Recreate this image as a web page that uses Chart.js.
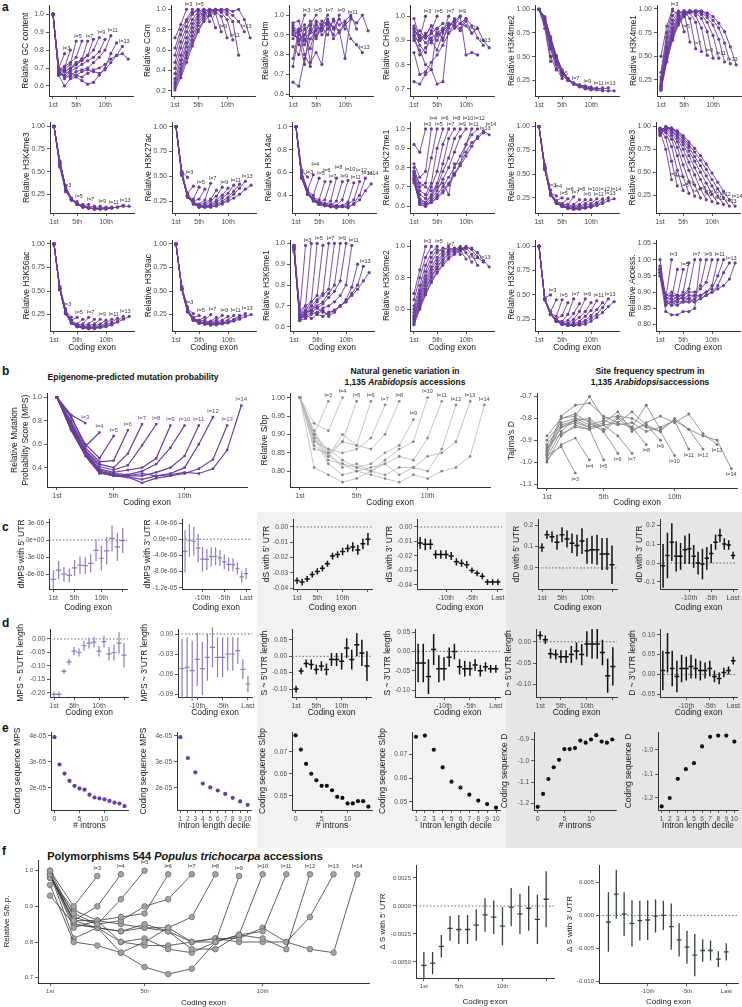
<!DOCTYPE html>
<html>
<head>
<meta charset="utf-8">
<script src="https://cdn.jsdelivr.net/npm/chart.js@4.4.1/dist/chart.umd.min.js"></script>
<style>
  body { margin: 0; width: 742px; height: 1007px; position: relative; overflow: hidden; background: #fff;
         font-family: "Liberation Sans", Arial, Helvetica, sans-serif; color: #111; }
  canvas { position: absolute; }
  .bg { position: absolute; }
  .lt { position: absolute; font-weight: bold; font-size: 12px; }
  .ttl { position: absolute; font-weight: bold; font-size: 8.5px; text-align: center; transform: translate(-50%, -50%); white-space: nowrap; line-height: 11px; }
</style>
</head>
<body>
<div class="bg" style="left:257px;top:512px;width:249px;height:336px;background:#f2f2f2"></div>
<div class="bg" style="left:506px;top:512px;width:236px;height:336px;background:#e5e6e8"></div>

<div class="lt" style="left:2px;top:0px">a</div>
<div class="lt" style="left:2px;top:364px">b</div>
<div class="lt" style="left:2px;top:520px">c</div>
<div class="lt" style="left:2px;top:616px">d</div>
<div class="lt" style="left:2px;top:721px">e</div>
<div class="lt" style="left:2px;top:844px">f</div>

<div class="ttl" style="left:133px;top:377px">Epigenome-predicted mutation probability</div>
<div class="ttl" style="left:405px;top:377px">Natural genetic variation in<br>1,135 <i>Arabidopsis</i> accessions</div>
<div class="ttl" style="left:650px;top:377px">Site frequency spectrum in<br>1,135 <i>Arabidopsis</i>accessions</div>
<div class="ttl" style="left:185px;top:856px;font-size:11px">Polymorphisms 544 <i>Populus trichocarpa</i> accessions</div>

<script>
const FAM = '"Liberation Sans", Arial, Helvetica, sans-serif';
Chart.defaults.font.family = FAM;

// ---------- shared tick labels ----------
const seriesLabels = ['l=3','l=4','l=5','l=6','l=7','l=8','l=9','l=10','l=11','l=12','l=13','l=14'];
const exonTicks = [1, 5, 10];
const exonTickLabels = ['1st', '5th', '10th'];
const exonTicks15 = [1, 5, 10, 15];
const exonTicks15Labels = ['1st', '5th', '10th', ''];
const lastTicks = [-10, -5, 0];
const lastTickLabels = ['-10th', '-5th', 'Last'];
const intronTicks = [0, 5, 10];
const decileTicks = [1, 2, 3, 4, 5, 6, 7, 8, 9, 10];
const decileTickLabels = ['1','2','3','4','5','6','7','8','9','10'];

// ---------- panel a: relative signal per exon, genes with l = 3..14 exons ----------
const gcContent = [
  [1,0.70,0.78],
  [1,0.68,0.70,0.80],
  [1,0.67,0.69,0.72,0.85],
  [1,0.69,0.71,0.73,0.76,0.85],
  [1,0.66,0.68,0.70,0.72,0.75,0.85],
  [1,0.68,0.66,0.69,0.72,0.74,0.77,0.86],
  [1,0.70,0.68,0.70,0.73,0.75,0.77,0.80,0.87],
  [1,0.67,0.65,0.68,0.70,0.72,0.74,0.76,0.79,0.86],
  [1,0.69,0.64,0.66,0.68,0.69,0.70,0.73,0.76,0.80,0.88],
  [1,0.66,0.60,0.64,0.65,0.63,0.61,0.62,0.66,0.70,0.78,0.84],
  [1,0.67,0.66,0.65,0.66,0.68,0.69,0.68,0.67,0.69,0.73,0.77,0.82],
  [1,0.70,0.68,0.67,0.66,0.65,0.67,0.69,0.70,0.72,0.75,0.77,0.78,0.75]
];
const cgm = [
  [0.72,0.85,1.0],
  [0.62,0.80,0.90,1.0],
  [0.55,0.75,0.88,0.97,1.0],
  [0.48,0.68,0.83,0.95,1.0,0.92],
  [0.42,0.62,0.78,0.90,0.98,1.0,0.88],
  [0.37,0.55,0.72,0.86,0.95,1.0,0.98,0.82],
  [0.32,0.50,0.67,0.82,0.93,0.98,1.0,0.96,0.78],
  [0.29,0.46,0.63,0.78,0.90,0.97,1.0,0.98,0.93,0.72],
  [0.27,0.42,0.58,0.74,0.87,0.95,0.99,1.0,0.97,0.90,0.70],
  [0.25,0.39,0.55,0.70,0.84,0.93,0.98,1.0,0.99,0.95,0.88,0.55],
  [0.23,0.36,0.52,0.67,0.80,0.90,0.96,0.99,1.0,0.98,0.94,0.88,0.78],
  [0.21,0.33,0.48,0.64,0.78,0.88,0.94,0.98,1.0,1.0,0.98,1.0,0.90,0.72]
];
const chhm = [
  [0.92,0.90,1.0],
  [0.95,0.85,0.93,0.95],
  [0.90,0.88,0.75,0.95,1.0],
  [0.88,0.93,0.80,0.74,0.97,0.95],
  [0.84,0.80,0.90,0.93,0.88,0.95,1.0],
  [0.78,0.92,0.95,0.76,0.81,0.75,0.98,0.93],
  [0.66,0.64,0.78,0.88,0.92,0.97,0.95,0.90,1.0],
  [0.96,0.97,0.87,0.92,0.90,0.95,0.97,0.93,0.98,0.93],
  [0.93,0.91,0.93,0.95,0.89,0.93,0.96,0.94,0.92,0.78,0.99],
  [0.91,0.87,0.90,0.97,0.93,0.94,0.90,0.98,0.95,0.97,1.0,0.93],
  [0.74,0.90,0.88,0.83,0.95,0.92,0.97,0.88,0.92,0.96,0.88,0.85,0.81],
  [0.94,0.92,0.85,0.91,0.96,0.90,0.93,0.97,0.91,0.95,0.98,0.96,1.0,0.92]
];
const chgm = [
  [0.99,0.91,1.0],
  [0.95,0.90,0.92,0.96],
  [0.93,0.88,0.85,0.94,1.0],
  [0.90,0.86,0.80,0.78,0.95,0.97],
  [0.92,0.84,0.87,0.90,0.86,0.93,1.0],
  [0.73,0.72,0.76,0.78,0.72,0.73,0.96,0.98],
  [0.96,0.92,0.91,0.93,0.95,0.90,0.97,0.96,1.0],
  [0.85,0.76,0.77,0.81,0.84,0.88,0.93,0.95,0.97,0.99],
  [0.94,0.92,0.89,0.91,0.93,0.95,0.97,0.96,0.94,0.98,0.93],
  [0.91,0.90,0.93,0.89,0.92,0.94,0.96,0.98,1.0,0.84,0.85,0.84],
  [0.92,0.94,0.91,0.93,0.90,0.95,0.93,0.97,0.95,0.99,0.96,0.91,0.88],
  [0.95,0.90,0.92,0.96,0.93,0.91,0.95,0.99,0.97,0.96,0.93,0.95,0.90,0.87]
];
const h3k4me2 = [
  [1,0.80,0.45],
  [1,0.84,0.50,0.36],
  [1,0.85,0.58,0.38,0.27],
  [1,0.86,0.60,0.42,0.30,0.25],
  [1,0.88,0.62,0.44,0.31,0.25,0.22],
  [1,0.90,0.65,0.46,0.33,0.26,0.22,0.20],
  [1,0.89,0.66,0.47,0.34,0.26,0.22,0.20,0.19],
  [1,0.90,0.68,0.48,0.34,0.26,0.22,0.20,0.19,0.18],
  [1,0.91,0.69,0.49,0.35,0.27,0.22,0.20,0.18,0.17,0.17],
  [1,0.90,0.68,0.48,0.34,0.25,0.21,0.19,0.17,0.16,0.16,0.17],
  [1,0.92,0.70,0.50,0.35,0.27,0.22,0.19,0.17,0.16,0.16,0.16,0.17],
  [1,0.92,0.71,0.51,0.36,0.27,0.21,0.18,0.16,0.15,0.15,0.14,0.14,0.14]
];
const h3k4me1 = [
  [0.50,0.82,1.0],
  [0.33,0.75,0.98,0.95],
  [0.28,0.70,0.93,0.98,0.76],
  [0.25,0.65,0.88,0.97,0.97,0.65],
  [0.22,0.60,0.84,0.95,0.98,0.90,0.58],
  [0.20,0.57,0.80,0.93,0.98,0.96,0.86,0.55],
  [0.19,0.54,0.77,0.91,0.97,0.98,0.93,0.80,0.51],
  [0.18,0.52,0.75,0.89,0.96,0.98,0.96,0.90,0.76,0.48],
  [0.17,0.50,0.73,0.88,0.95,0.98,0.97,0.94,0.86,0.72,0.48],
  [0.16,0.48,0.71,0.86,0.94,0.97,0.98,0.96,0.91,0.83,0.68,0.44],
  [0.15,0.46,0.69,0.85,0.93,0.97,0.98,0.97,0.94,0.88,0.80,0.64,0.42],
  [0.14,0.44,0.67,0.83,0.92,0.96,0.98,0.98,0.96,0.92,0.85,0.76,0.60,0.41]
];
const h3k4me3 = [
  [1,0.55,0.30],
  [1,0.57,0.28,0.20],
  [1,0.58,0.30,0.19,0.17],
  [1,0.59,0.31,0.19,0.14,0.14],
  [1,0.58,0.30,0.19,0.14,0.12,0.14],
  [1,0.60,0.32,0.20,0.14,0.12,0.11,0.12],
  [1,0.59,0.31,0.19,0.14,0.12,0.10,0.10,0.12],
  [1,0.60,0.32,0.20,0.14,0.11,0.10,0.09,0.10,0.11],
  [1,0.60,0.32,0.19,0.14,0.11,0.10,0.09,0.09,0.10,0.11],
  [1,0.61,0.33,0.20,0.14,0.11,0.10,0.09,0.09,0.10,0.10,0.11],
  [1,0.61,0.33,0.20,0.14,0.11,0.10,0.09,0.09,0.09,0.10,0.11,0.13],
  [1,0.62,0.34,0.21,0.15,0.12,0.10,0.09,0.09,0.09,0.10,0.11,0.12,0.12]
];
const h3k27ac = [
  [1,0.55,0.49],
  [1,0.54,0.33,0.40],
  [1,0.53,0.30,0.27,0.39],
  [1,0.52,0.29,0.25,0.27,0.37],
  [1,0.51,0.30,0.24,0.22,0.26,0.43],
  [1,0.52,0.29,0.23,0.21,0.23,0.27,0.36],
  [1,0.51,0.30,0.23,0.20,0.21,0.25,0.30,0.39],
  [1,0.52,0.30,0.22,0.19,0.20,0.22,0.26,0.31,0.38],
  [1,0.52,0.29,0.23,0.20,0.20,0.21,0.24,0.28,0.33,0.41],
  [1,0.53,0.30,0.22,0.19,0.19,0.20,0.22,0.25,0.29,0.35,0.42],
  [1,0.53,0.31,0.23,0.19,0.19,0.19,0.21,0.23,0.27,0.32,0.38,0.45],
  [1,0.54,0.31,0.23,0.20,0.19,0.19,0.20,0.22,0.25,0.28,0.32,0.37,0.41]
];
const h3k14ac = [
  [1,0.62,0.56],
  [1,0.60,0.45,0.58],
  [1,0.58,0.44,0.40,0.55],
  [1,0.57,0.43,0.38,0.36,0.52],
  [1,0.56,0.42,0.37,0.34,0.36,0.52],
  [1,0.56,0.42,0.36,0.33,0.32,0.35,0.55],
  [1,0.55,0.41,0.36,0.32,0.31,0.31,0.35,0.52],
  [1,0.55,0.41,0.35,0.32,0.31,0.30,0.31,0.36,0.53],
  [1,0.56,0.42,0.36,0.33,0.31,0.30,0.30,0.31,0.34,0.51],
  [1,0.55,0.41,0.35,0.32,0.31,0.30,0.29,0.30,0.32,0.36,0.52],
  [1,0.56,0.42,0.36,0.33,0.32,0.31,0.30,0.30,0.29,0.33,0.40,0.55],
  [1,0.56,0.42,0.37,0.34,0.33,0.32,0.31,0.31,0.30,0.32,0.36,0.44,0.50]
];
const h3k27me1 = [
  [0.92,0.88,1.0],
  [0.82,0.75,0.78,1.0],
  [0.80,0.70,0.72,0.85,1.0],
  [0.78,0.68,0.66,0.72,0.90,1.0],
  [0.77,0.66,0.64,0.70,0.78,0.92,1.0],
  [0.76,0.64,0.62,0.66,0.72,0.82,0.95,1.0],
  [0.75,0.63,0.62,0.65,0.70,0.78,0.85,0.95,1.0],
  [0.74,0.62,0.61,0.64,0.68,0.74,0.80,0.88,0.96,1.0],
  [0.78,0.72,0.70,0.68,0.70,0.72,0.66,0.82,0.82,0.92,1.0],
  [0.74,0.61,0.60,0.63,0.66,0.70,0.75,0.80,0.86,0.92,0.97,1.0],
  [0.73,0.61,0.60,0.62,0.65,0.68,0.72,0.77,0.82,0.88,0.93,0.95,0.98],
  [0.72,0.62,0.61,0.62,0.64,0.67,0.71,0.76,0.81,0.86,0.91,0.96,0.99,0.97]
];
const h3k36ac = [
  [1,0.60,0.33],
  [1,0.58,0.30,0.27],
  [1,0.57,0.30,0.22,0.25],
  [1,0.57,0.29,0.21,0.19,0.24],
  [1,0.56,0.29,0.21,0.18,0.18,0.26],
  [1,0.56,0.28,0.20,0.17,0.16,0.18,0.23],
  [1,0.55,0.28,0.20,0.17,0.15,0.16,0.18,0.23],
  [1,0.55,0.28,0.20,0.16,0.15,0.15,0.16,0.19,0.23],
  [1,0.55,0.28,0.20,0.16,0.14,0.14,0.15,0.17,0.19,0.24],
  [1,0.56,0.28,0.19,0.16,0.14,0.14,0.14,0.15,0.17,0.20,0.24],
  [1,0.56,0.28,0.19,0.16,0.14,0.13,0.14,0.15,0.16,0.18,0.21,0.25],
  [1,0.57,0.29,0.20,0.16,0.14,0.13,0.13,0.14,0.15,0.17,0.19,0.22,0.24]
];
const h3k36me3 = [
  [0.95,0.75,0.42],
  [0.96,0.88,0.62,0.35],
  [0.97,0.93,0.78,0.52,0.30],
  [0.98,0.95,0.86,0.68,0.45,0.27],
  [0.98,0.97,0.90,0.77,0.58,0.40,0.24],
  [0.97,0.98,0.93,0.83,0.68,0.52,0.36,0.22],
  [0.96,0.99,0.95,0.87,0.75,0.61,0.47,0.32,0.20],
  [0.94,0.99,0.96,0.89,0.80,0.68,0.55,0.42,0.29,0.18],
  [0.93,1.00,0.97,0.91,0.83,0.73,0.62,0.50,0.38,0.26,0.16],
  [0.92,0.99,0.98,0.93,0.86,0.77,0.67,0.57,0.46,0.35,0.24,0.15],
  [0.91,0.98,0.98,0.94,0.88,0.80,0.72,0.63,0.53,0.42,0.32,0.22,0.13],
  [0.90,0.97,0.98,0.95,0.90,0.83,0.76,0.68,0.59,0.49,0.39,0.29,0.20,0.13]
];
const h3k56ac = [
  [1,0.55,0.31],
  [1,0.54,0.29,0.22],
  [1,0.53,0.28,0.19,0.22],
  [1,0.53,0.28,0.18,0.15,0.20],
  [1,0.52,0.27,0.18,0.14,0.15,0.22],
  [1,0.52,0.27,0.17,0.13,0.13,0.15,0.20],
  [1,0.52,0.27,0.17,0.13,0.12,0.13,0.15,0.20],
  [1,0.52,0.26,0.17,0.13,0.12,0.12,0.13,0.15,0.19],
  [1,0.52,0.26,0.16,0.12,0.11,0.11,0.12,0.13,0.16,0.20],
  [1,0.52,0.26,0.16,0.12,0.11,0.11,0.11,0.12,0.14,0.17,0.21],
  [1,0.52,0.26,0.16,0.12,0.11,0.10,0.11,0.12,0.13,0.15,0.18,0.23],
  [1,0.53,0.27,0.16,0.13,0.11,0.10,0.10,0.11,0.12,0.14,0.17,0.20,0.23]
];
const h3k9ac = [
  [1,0.55,0.33],
  [1,0.54,0.31,0.26],
  [1,0.53,0.30,0.22,0.24],
  [1,0.53,0.29,0.21,0.19,0.22],
  [1,0.52,0.29,0.21,0.18,0.19,0.25],
  [1,0.52,0.28,0.20,0.17,0.17,0.18,0.22],
  [1,0.52,0.28,0.20,0.17,0.16,0.17,0.19,0.24],
  [1,0.52,0.28,0.20,0.17,0.16,0.16,0.17,0.19,0.23],
  [1,0.52,0.28,0.19,0.16,0.15,0.15,0.16,0.17,0.19,0.24],
  [1,0.52,0.28,0.19,0.16,0.15,0.15,0.15,0.16,0.17,0.20,0.24],
  [1,0.53,0.28,0.19,0.16,0.15,0.14,0.15,0.16,0.17,0.19,0.22,0.26],
  [1,0.53,0.29,0.20,0.16,0.15,0.14,0.14,0.15,0.16,0.18,0.20,0.23,0.25]
];
const h3k9me1 = [
  [0.98,0.67,0.99],
  [0.99,0.68,0.70,1.0],
  [0.98,0.66,0.70,0.72,1.0],
  [0.99,0.65,0.68,0.72,0.75,0.99],
  [0.97,0.64,0.66,0.70,0.73,0.76,1.0],
  [0.99,0.65,0.67,0.68,0.72,0.75,0.78,1.0],
  [0.98,0.63,0.66,0.68,0.70,0.72,0.76,0.80,1.0],
  [0.97,0.64,0.65,0.67,0.69,0.71,0.74,0.77,0.82,1.0],
  [0.98,0.63,0.64,0.66,0.67,0.69,0.70,0.72,0.75,0.80,0.99],
  [0.96,0.65,0.66,0.64,0.66,0.68,0.65,0.67,0.70,0.73,0.79,0.90],
  [0.97,0.64,0.67,0.68,0.66,0.65,0.67,0.68,0.70,0.72,0.76,0.80,0.89],
  [0.99,0.66,0.68,0.70,0.69,0.67,0.66,0.68,0.70,0.72,0.75,0.78,0.82,0.86]
];
const h3k9me2 = [
  [0.70,0.85,1.0],
  [0.66,0.80,0.93,1.0],
  [0.62,0.75,0.88,0.96,1.0],
  [0.60,0.72,0.84,0.93,0.98,0.97],
  [0.58,0.70,0.81,0.90,0.96,0.99,0.98],
  [0.56,0.68,0.79,0.87,0.93,0.97,1.0,0.96],
  [0.55,0.66,0.77,0.85,0.91,0.95,0.98,0.99,0.95],
  [0.54,0.65,0.75,0.83,0.89,0.94,0.97,0.99,0.98,0.92],
  [0.53,0.63,0.73,0.81,0.87,0.92,0.96,0.98,1.0,0.96,0.90],
  [0.52,0.62,0.72,0.80,0.86,0.91,0.95,0.97,0.99,0.99,0.95,0.88],
  [0.51,0.61,0.70,0.78,0.84,0.89,0.93,0.96,0.98,1.0,0.98,0.93,0.90],
  [0.50,0.60,0.69,0.77,0.83,0.88,0.92,0.95,0.97,0.99,0.99,0.96,0.91,0.87]
];
const h3k23ac = [
  [1,0.47,0.50],
  [1,0.46,0.33,0.45],
  [1,0.46,0.31,0.28,0.45],
  [1,0.45,0.30,0.25,0.29,0.42],
  [1,0.45,0.30,0.24,0.23,0.30,0.46],
  [1,0.45,0.30,0.24,0.21,0.24,0.31,0.41],
  [1,0.45,0.30,0.24,0.21,0.21,0.25,0.33,0.46],
  [1,0.45,0.30,0.23,0.20,0.20,0.22,0.27,0.33,0.42],
  [1,0.45,0.30,0.23,0.20,0.19,0.20,0.23,0.28,0.34,0.44],
  [1,0.45,0.30,0.23,0.20,0.19,0.19,0.21,0.24,0.29,0.35,0.42],
  [1,0.46,0.30,0.23,0.20,0.19,0.19,0.20,0.22,0.26,0.30,0.37,0.46],
  [1,0.46,0.31,0.24,0.21,0.19,0.19,0.19,0.20,0.23,0.27,0.32,0.38,0.43]
];
const access = [
  [1.0,0.88,1.0],
  [0.98,0.87,0.88,0.97],
  [0.97,0.86,0.87,0.89,0.97],
  [0.96,0.87,0.86,0.88,0.90,0.99],
  [0.97,0.86,0.87,0.87,0.89,0.91,1.0],
  [0.95,0.84,0.83,0.83,0.84,0.84,0.85,1.0],
  [0.96,0.89,0.90,0.89,0.89,0.90,0.90,0.92,1.0],
  [0.97,0.88,0.88,0.87,0.87,0.88,0.89,0.91,0.93,1.0],
  [0.96,0.87,0.87,0.86,0.87,0.87,0.88,0.89,0.90,0.92,1.0],
  [0.97,0.89,0.89,0.89,0.88,0.89,0.89,0.89,0.90,0.91,0.95,1.0],
  [0.95,0.87,0.86,0.86,0.87,0.87,0.87,0.88,0.89,0.90,0.92,0.96,0.99],
  [0.96,0.88,0.89,0.88,0.88,0.88,0.87,0.88,0.89,0.90,0.91,0.92,0.94,0.99]
];

const aSeries = [gcContent, cgm, chhm, chgm, h3k4me2, h3k4me1,
                 h3k4me3, h3k27ac, h3k14ac, h3k27me1, h3k36ac, h3k36me3,
                 h3k56ac, h3k9ac, h3k9me1, h3k9me2, h3k23ac, access];
const aTitles = ['Relative GC content','Relative CGm','Relative CHHm','Relative CHGm','Relative H3K4me2','Relative H3K4me1',
                 'Relative H3K4me3','Relative H3K27ac','Relative H3K14ac','Relative H3K27me1','Relative H3K36ac','Relative H3K36me3',
                 'Relative H3K56ac','Relative H3K9ac','Relative H3K9me1','Relative H3K9me2','Relative H3K23ac','Relative Access.'];
const tk1 = [0.6,0.7,0.8,0.9,1.0], tk1L = ['0.6','0.7','0.8','0.9','1.0'];
const tk2 = [0.2,0.4,0.6,0.8,1.0], tk2L = ['0.2','0.4','0.6','0.8','1.0'];
const tk3 = [0.7,0.8,0.9,1.0], tk3L = ['0.7','0.8','0.9','1.0'];
const tk4 = [0.25,0.5,0.75,1.0], tk4L = ['0.25','0.50','0.75','1.00'];
const tk5 = [0.4,0.6,0.8,1.0], tk5L = ['0.4','0.6','0.8','1.0'];
const tk6 = [0.6,0.8,1.0], tk6L = ['0.6','0.8','1.0'];
const tk7 = [0.80,0.85,0.90,0.95,1.00,1.05], tk7L = ['0.80','0.85','0.90','0.95','1.00','1.05'];
const aYTicks = [tk1,tk2,tk1,tk3,tk4,tk4, tk4,tk4,tk5,tk1,tk4,tk4, tk4,tk4,tk1,tk6,tk4,tk7];
const aYLabels = [tk1L,tk2L,tk1L,tk3L,tk4L,tk4L, tk4L,tk4L,tk5L,tk1L,tk4L,tk4L, tk4L,tk4L,tk1L,tk6L,tk4L,tk7L];
const aYRange = [[0.544,1.05],[0.15,1.04],[0.59,1.05],[0.671,1.045],[0.085,1.043],[0.08,1.04],
                 [0.045,1.045],[0.13,1.045],[0.245,1.04],[0.565,1.035],[0.09,1.045],[0.055,1.045],
                 [0.075,1.04],[0.075,1.04],[0.58,1.015],[0.46,1.04],[0.13,1.06],[0.78,1.06]];
const oddShown = [3,5,7,9,11,13];
const allShown = [3,4,5,6,7,8,9,10,11,12,13,14];
const aShown = [oddShown,oddShown,oddShown,oddShown,oddShown,oddShown,
                oddShown,oddShown,allShown,allShown,allShown,allShown,
                oddShown,oddShown,oddShown,oddShown,oddShown,oddShown];
const aStagger = [0,0,0,0,0,0, 0,0,6,6,5,5, 0,0,0,0,0,0];

// ---------- panel b ----------
const mpsSeries = [
  [1,0.85,0.78],
  [1,0.84,0.58,0.70],
  [1,0.83,0.60,0.48,0.67],
  [1,0.80,0.57,0.45,0.46,0.72],
  [1,0.78,0.55,0.43,0.40,0.52,0.77],
  [1,0.77,0.54,0.41,0.38,0.42,0.59,0.77],
  [1,0.76,0.53,0.39,0.36,0.38,0.40,0.48,0.76],
  [1,0.75,0.52,0.38,0.35,0.34,0.37,0.43,0.57,0.76],
  [1,0.74,0.52,0.37,0.34,0.33,0.33,0.36,0.40,0.50,0.76],
  [1,0.73,0.51,0.36,0.33,0.32,0.30,0.33,0.35,0.40,0.60,0.83],
  [1,0.72,0.51,0.36,0.33,0.32,0.27,0.31,0.33,0.35,0.39,0.47,0.76],
  [1,0.72,0.50,0.35,0.34,0.33,0.35,0.33,0.34,0.36,0.35,0.39,0.55,0.93]
];
const sbpSeries = [
  [1,0.90,0.99],
  [1,0.93,0.91,1.0],
  [1,0.90,0.85,0.88,0.99],
  [1,0.89,0.84,0.90,0.87,0.99],
  [1,0.88,0.86,0.85,0.86,0.89,0.98],
  [1,0.87,0.84,0.88,0.87,0.86,0.90,0.99],
  [1,0.90,0.83,0.82,0.81,0.82,0.85,0.87,0.94],
  [1,0.86,0.85,0.81,0.82,0.80,0.83,0.86,0.88,1.0],
  [1,0.89,0.82,0.79,0.80,0.81,0.82,0.84,0.83,0.89,0.99],
  [1,0.81,0.79,0.77,0.78,0.80,0.79,0.81,0.81,0.80,0.86,0.98],
  [1,0.90,0.86,0.83,0.81,0.80,0.82,0.79,0.81,0.84,0.85,0.88,0.99],
  [1,0.91,0.84,0.82,0.80,0.79,0.78,0.77,0.79,0.78,0.80,0.81,0.84,0.98]
];
const tajimaSeries = [
  [-0.97,-0.93,-1.05],
  [-0.99,-0.92,-0.89,-0.99],
  [-0.93,-0.87,-0.84,-0.85,-0.99],
  [-0.90,-0.82,-0.80,-0.81,-0.86,-0.96],
  [-0.96,-0.84,-0.81,-0.84,-0.83,-0.88,-0.96],
  [-0.88,-0.80,-0.79,-0.70,-0.80,-0.79,-0.84,-0.92],
  [-0.95,-0.79,-0.74,-0.73,-0.79,-0.82,-0.77,-0.83,-0.90],
  [-0.92,-0.83,-0.81,-0.80,-0.85,-0.79,-0.80,-0.84,-0.86,-0.97],
  [-1.00,-0.88,-0.83,-0.85,-0.83,-0.82,-0.84,-0.74,-0.85,-0.81,-0.94],
  [-0.97,-0.80,-0.78,-0.82,-0.86,-0.80,-0.85,-0.83,-0.86,-0.80,-0.85,-0.94],
  [-0.94,-0.84,-0.82,-0.84,-0.82,-0.77,-0.86,-0.82,-0.79,-0.82,-0.78,-0.87,-0.92],
  [-0.98,-0.86,-0.80,-0.83,-0.81,-0.83,-0.82,-0.86,-0.84,-0.81,-0.85,-0.88,-0.90,-1.03]
];

// ---------- panel c: per-exon estimate with error ----------
const dmps5 = [-6.9e-6,-5.3e-6,-6.0e-6,-6.2e-6,-4.9e-6,-4.4e-6,-4.5e-6,-4.1e-6,-1.8e-6,-3.2e-6,-1.9e-6,0.3e-6,-1.2e-6,-0.1e-6];
const dmps5Err = [1.6e-6,1.6e-6,1.3e-6,1.2e-6,1.4e-6,1.5e-6,1.5e-6,1.6e-6,1.9e-6,2.2e-6,2.4e-6,2.3e-6,2.5e-6,2.2e-6];
const dmps3 = [-3.0e-6,-0.3e-6,-0.5e-6,-2.2e-6,-4.9e-6,-5.0e-6,-4.3e-6,-4.2e-6,-4.6e-6,-5.6e-6,-6.2e-6,-6.3e-6,-7.3e-6,-9.3e-6,-8.5e-6];
const dmps3Err = [5.2e-6,4.0e-6,3.5e-6,3.5e-6,3.0e-6,2.6e-6,2.4e-6,2.2e-6,2.0e-6,1.8e-6,1.7e-6,1.6e-6,1.5e-6,1.4e-6,1.4e-6];
const ds5 = [-0.035,-0.036,-0.034,-0.031,-0.029,-0.027,-0.024,-0.019,-0.018,-0.016,-0.014,-0.013,-0.015,-0.011,-0.008];
const ds5Err = [0.002,0.0022,0.002,0.002,0.002,0.002,0.002,0.0022,0.0022,0.0025,0.0025,0.003,0.0032,0.0035,0.004];
const ds3 = [-0.011,-0.012,-0.012,-0.019,-0.019,-0.019,-0.020,-0.024,-0.025,-0.026,-0.030,-0.032,-0.034,-0.038,-0.038,-0.038];
const ds3Err = [0.004,0.004,0.0035,0.003,0.003,0.003,0.0028,0.0025,0.0025,0.0025,0.002,0.002,0.002,0.002,0.002,0.002];
const dd5 = [0.095,0.155,0.145,0.12,0.155,0.135,0.115,0.105,0.125,0.08,0.085,0.085,0.065,0.065,0.015];
const dd5Err = [0.02,0.02,0.025,0.035,0.035,0.04,0.045,0.05,0.06,0.06,0.065,0.07,0.075,0.075,0.09];
const dd3 = [-0.015,0.04,0.11,0.035,0.035,0.07,0.075,0.035,0.0,-0.005,0.025,0.05,0.11,0.145,0.10,0.095,0.04];
const dd3Err = [0.115,0.12,0.1,0.08,0.07,0.075,0.08,0.06,0.06,0.08,0.06,0.05,0.04,0.035,0.03,0.025,0.02];

// ---------- panel d: slope on UTR length ----------
const mps5len = [-0.205,-0.205,-0.12,-0.085,-0.045,-0.05,-0.025,-0.015,-0.012,-0.045,-0.01,-0.055,-0.05,-0.015,-0.06];
const mps5lenErr = [0.01,0.01,0.01,0.012,0.015,0.015,0.018,0.02,0.02,0.02,0.022,0.025,0.03,0.04,0.045];
const mps3len = [-0.052,-0.05,-0.055,-0.038,-0.052,-0.035,-0.02,-0.035,-0.035,-0.03,-0.03,-0.025,-0.053,-0.075];
const mps3lenErr = [0.045,0.045,0.045,0.04,0.04,0.035,0.03,0.03,0.03,0.025,0.025,0.02,0.015,0.012];
const s5len = [-0.1,-0.045,-0.022,-0.025,-0.04,-0.03,-0.04,-0.01,-0.01,-0.015,0.025,-0.01,0.035,0.01,-0.03];
const s5lenErr = [0.01,0.01,0.012,0.015,0.015,0.015,0.018,0.02,0.02,0.025,0.03,0.03,0.035,0.04,0.045];
const s3len = [-0.03,-0.03,-0.065,0.005,-0.045,-0.045,-0.015,0.0,-0.04,-0.045,-0.045,-0.035,-0.05,-0.04,-0.045,-0.045];
const s3lenErr = [0.05,0.05,0.045,0.04,0.035,0.03,0.025,0.02,0.02,0.02,0.018,0.015,0.015,0.012,0.01,0.01];
const d5len = [0.015,0.005,-0.028,-0.03,-0.035,-0.035,-0.03,-0.022,-0.03,-0.005,-0.005,-0.005,-0.025,-0.08,-0.058];
const d5lenErr = [0.01,0.01,0.012,0.012,0.015,0.015,0.02,0.02,0.025,0.03,0.035,0.035,0.03,0.04,0.045];
const d3len = [0.01,0.055,0.015,-0.005,0.015,0.015,0.02,0.015,0.01,0.01,0.015,-0.005,-0.01,0.005,0.01,0.035];
const d3lenErr = [0.05,0.05,0.045,0.04,0.035,0.03,0.03,0.025,0.025,0.02,0.02,0.015,0.015,0.012,0.01,0.01];

// ---------- panel e: coding sequence summaries ----------
const mpsByIntrons = [3.95e-5,2.9e-5,2.55e-5,2.27e-5,2.08e-5,1.98e-5,1.93e-5,1.74e-5,1.63e-5,1.6e-5,1.56e-5,1.5e-5,1.43e-5,1.4e-5,1.3e-5];
const mpsByDecile = [3.95e-5,3.15e-5,2.6e-5,2.17e-5,2.02e-5,1.9e-5,1.77e-5,1.62e-5,1.48e-5,1.35e-5];
const sByIntrons = [0.0775,0.071,0.0645,0.06,0.057,0.0545,0.0545,0.0525,0.0495,0.049,0.0465,0.0465,0.0475,0.0475,0.045];
const sByDecile = [0.0775,0.078,0.072,0.0645,0.0585,0.056,0.053,0.0505,0.049,0.0475];
const dByIntrons = [-1.215,-1.155,-1.085,-1.03,-0.995,-0.945,-0.945,-0.94,-0.905,-0.915,-0.9,-0.88,-0.91,-0.915,-0.9];
const dByDecile = [-1.235,-1.2,-1.12,-1.08,-1.055,-0.985,-0.945,-0.94,-0.94,-0.965];

// ---------- panel f: Populus ----------
const populusSeries = [
  [1.0,0.90,0.985],
  [0.99,0.86,0.90,0.99],
  [0.98,0.88,0.85,0.92,1.0],
  [0.99,0.84,0.86,0.87,0.88,0.99],
  [1.0,0.87,0.85,0.86,0.90,0.92,0.99],
  [0.96,0.80,0.79,0.77,0.80,0.84,0.87,0.99],
  [0.93,0.85,0.84,0.77,0.73,0.71,0.725,0.80,0.985],
  [0.99,0.86,0.84,0.83,0.85,0.83,0.78,0.78,0.82,0.99],
  [0.98,0.89,0.86,0.85,0.84,0.83,0.80,0.80,0.82,0.83,0.99],
  [0.99,0.86,0.86,0.80,0.81,0.78,0.77,0.80,0.82,0.81,0.78,0.99],
  [0.99,0.81,0.84,0.83,0.84,0.84,0.80,0.81,0.81,0.84,0.80,0.87,0.99],
  [0.99,0.85,0.84,0.80,0.79,0.79,0.80,0.81,0.80,0.80,0.80,0.78,0.77,0.99]
];
const popS5 = [-0.0053,-0.0051,-0.0036,-0.0020,-0.0021,-0.0021,-0.0017,-0.0008,-0.0010,-0.0018,-0.0001,-0.0007,-0.0002,-0.0012,0.0006];
const popS5Err = [0.0012,0.001,0.001,0.0011,0.0013,0.0013,0.0014,0.0015,0.0015,0.0017,0.0017,0.0018,0.002,0.0022,0.0025];
const popS3 = [-0.0010,0.0032,0.0002,-0.0012,-0.0008,-0.0007,-0.0001,0.0000,-0.0017,-0.0037,-0.0048,-0.0060,-0.0053,-0.0053,-0.0066,-0.0055];
const popS3Err = [0.0045,0.0037,0.0033,0.0035,0.003,0.003,0.0025,0.0022,0.0035,0.0025,0.0025,0.0032,0.0017,0.0015,0.0012,0.0013];

// ================= drawing helpers =================
const PURPLE = '#6a3d9a';
const LPURPLE = '#8f7bbf';

const endLabels = {
  id: 'endLabels',
  afterDatasetsDraw(chart, args, o) {
    if (!o || !o.on) return;
    const ctx = chart.ctx;
    ctx.save();
    ctx.font = (o.size || 6) + 'px ' + FAM;
    ctx.fillStyle = o.color || '#333';
    ctx.textAlign = 'center';
    ctx.textBaseline = 'bottom';
    chart.data.datasets.forEach((ds, i) => {
      if (!ds.endLabel) return;
      const pts = chart.getDatasetMeta(i).data;
      const pt = pts[pts.length - 1];
      const stag = (o.stagger && i % 2 === 1) ? -o.stagger : 0;
      ctx.fillText(ds.endLabel, pt.x + (o.dx || 0), pt.y + (o.dy === undefined ? -2 : o.dy) + stag);
    });
    ctx.restore();
  }
};

const crossBars = {
  id: 'cross',
  afterDatasetsDraw(chart, args, o) {
    const {ctx, scales: {x, y}} = chart;
    chart.data.datasets.forEach(ds => {
      if (!ds.errs) return;
      ctx.save();
      ctx.strokeStyle = ds.borderColor;
      ctx.lineWidth = o.lw || 1.2;
      ctx.beginPath();
      ds.data.forEach((p, i) => {
        const e = ds.errs[i];
        const px = x.getPixelForValue(p.x), py = y.getPixelForValue(p.y);
        ctx.moveTo(px, y.getPixelForValue(p.y - e));
        ctx.lineTo(px, y.getPixelForValue(p.y + e));
        ctx.moveTo(x.getPixelForValue(p.x - (o.hw || 0.5)), py);
        ctx.lineTo(x.getPixelForValue(p.x + (o.hw || 0.5)), py);
      });
      ctx.stroke();
      ctx.restore();
    });
  }
};

function axis(dir, o, size) {
  return {
    type: 'linear', position: dir === 'x' ? 'bottom' : 'left', min: o.min, max: o.max,
    afterBuildTicks: s => { s.ticks = o.ticks.map(v => ({value: v})); },
    afterFit: s => { if (dir === 'x') s.height = size; else s.width = size; },
    ticks: {autoSkip: false, maxRotation: 0, minRotation: 0, padding: 2, color: '#4d4d4d',
            font: {size: o.fs || 7}, callback: (v, i) => o.labels[i]},
    grid: {drawOnChartArea: false, drawTicks: true, tickLength: 3, color: '#333', lineWidth: 0.8},
    border: {display: true, color: '#333', width: 1},
    title: {display: !!o.title, text: o.title || '', color: '#1a1a1a',
            font: {size: o.tfs || 8.5}, padding: {top: 0, bottom: 0}}
  };
}

function mk(p) {
  const padT = 6, padR = 10;
  const cv = document.createElement('canvas');
  cv.width = p.yW + p.w + padR;
  cv.height = padT + p.h + p.xH;
  cv.style.left = (p.ax - p.yW) + 'px';
  cv.style.top = (p.top - padT) + 'px';
  document.body.appendChild(cv);
  return new Chart(cv, {
    type: 'line',
    data: {datasets: p.sets},
    options: {
      responsive: false, animation: false, devicePixelRatio: 1,
      layout: {padding: {top: padT, right: padR, left: 0, bottom: 0}},
      scales: {x: axis('x', p.x, p.xH), y: axis('y', p.y, p.yW)},
      plugins: {legend: {display: false}, tooltip: {enabled: false},
                endLabels: p.lab || {}, cross: p.cross || {}}
    },
    plugins: [endLabels, crossBars]
  });
}

function lineSets(series, shown, style) {
  return series.map((arr, k) => Object.assign({
    data: arr.map((y, i) => ({x: i + 1, y})),
    borderWidth: 0.9, pointRadius: 1.6, pointBorderWidth: 0, tension: 0,
    endLabel: shown.includes(k + 3) ? seriesLabels[k] : ''
  }, style));
}

function crossSet(vals, errs, x0, color) {
  return {data: vals.map((y, i) => ({x: x0 + i, y})), errs, borderColor: color,
          showLine: false, pointRadius: 0};
}

function zeroLine(xmin, xmax) {
  return {data: [{x: xmin, y: 0}, {x: xmax, y: 0}], borderColor: '#444', borderWidth: 0.8,
          borderDash: [1.5, 2], pointRadius: 0};
}

function dotSet(vals, x0, color) {
  return {data: vals.map((y, i) => ({x: x0 + i, y})), showLine: false, pointRadius: 2.1,
          pointBorderWidth: 0, backgroundColor: color, borderColor: color};
}

// ================= panel a =================
const aAxisX = [[49,171,289,410,535,657],[50,172,292,410,535,656],[50,172,290,410,535,656]];
const aTop = [5, 122, 240];
aSeries.forEach((series, idx) => {
  const row = Math.floor(idx / 6), col = idx % 6;
  mk({
    ax: aAxisX[row][col], top: aTop[row], w: 84, h: 91, yW: 28, xH: row === 2 ? 22 : 13,
    x: {min: 0.31, max: 14.84, ticks: exonTicks, labels: exonTickLabels, title: row === 2 ? 'Coding exon' : ''},
    y: {min: aYRange[idx][0], max: aYRange[idx][1], ticks: aYTicks[idx], labels: aYLabels[idx], title: aTitles[idx]},
    sets: lineSets(series, aShown[idx], {borderColor: PURPLE, backgroundColor: PURPLE}),
    lab: {on: true, size: 5.5, color: '#333', dx: 2, dy: -2, stagger: aStagger[idx]}
  });
});

// ================= panel b =================
mk({
  ax: 47, top: 393, w: 200, h: 94, yW: 37, xH: 21,
  x: {min: 0.3, max: 14.4, ticks: exonTicks, labels: exonTickLabels, title: 'Coding exon'},
  y: {min: 0.235, max: 1.035, ticks: [0.4,0.6,0.8,1.0], labels: ['0.4','0.6','0.8','1.0'],
      title: ['Relative Mutation', 'Probability Score (MPS)']},
  sets: lineSets(mpsSeries, allShown, {borderColor: PURPLE, backgroundColor: PURPLE, borderWidth: 1.2,
                 pointStyle: 'rect', pointRadius: 1.7}),
  lab: {on: true, size: 6, color: PURPLE, dx: 0, dy: -3}
});
mk({
  ax: 290, top: 393, w: 200, h: 94, yW: 30, xH: 21,
  x: {min: 0.3, max: 14.4, ticks: exonTicks, labels: exonTickLabels, title: 'Coding exon'},
  y: {min: 0.757, max: 1.012, ticks: [0.80,0.85,0.90,0.95,1.00], labels: ['0.80','0.85','0.90','0.95','1.00'],
      title: 'Relative S/bp'},
  sets: lineSets(sbpSeries, allShown, {borderColor: '#b8b8b8', backgroundColor: '#8a8a8a', borderWidth: 0.8,
                 pointRadius: 1.4}),
  lab: {on: true, size: 5.5, color: '#444', dx: 0, dy: -3}
});
mk({
  ax: 537, top: 393, w: 200, h: 95, yW: 30, xH: 20,
  x: {min: 0.3, max: 14.4, ticks: exonTicks, labels: exonTickLabels, title: 'Coding exon'},
  y: {min: -1.118, max: -0.685, ticks: [-1.1,-1.0,-0.9,-0.8,-0.7], labels: ['-1.1','-1.0','-0.9','-0.8','-0.7'],
      title: "Tajima's D"},
  sets: lineSets(tajimaSeries, allShown, {borderColor: '#8c8c8c', backgroundColor: '#7a7a7a', borderWidth: 0.9,
                 pointRadius: 1.4}),
  lab: {on: true, size: 5.5, color: '#444', dx: 0, dy: 9}
});

// ================= panel c =================
const cTop = 519, cH = 70, cXH = 24;
mk({ax: 49, top: cTop, w: 78, h: cH, yW: 32, xH: cXH,
  x: {min: 0.2, max: 14.8, ticks: [1,5,10,14], labels: exonTicks15Labels, title: 'Coding exon'},
  y: {min: -8.6e-6, max: 3.7e-6, ticks: [-6e-6,-3e-6,0,3e-6], labels: ['-6e-06','-3e-06','0e+00','3e-06'], title: "dMPS with 5' UTR", fs: 6.5},
  sets: [zeroLine(0.2, 14.8), crossSet(dmps5, dmps5Err, 1, LPURPLE)], cross: {hw: 0.5, lw: 1.2}});
mk({ax: 182, top: cTop, w: 68, h: cH, yW: 39, xH: cXH,
  x: {min: -14.7, max: 0.9, ticks: lastTicks, labels: lastTickLabels, title: 'Coding exon'},
  y: {min: -1.23e-5, max: 5e-6, ticks: [-1.2e-5,-8e-6,-4e-6,0,4e-6], labels: ['-1.2e-05','-8.0e-06','-4.0e-06','0.0e+00','4.0e-06'], title: "dMPS with 3' UTR", fs: 6.5},
  sets: [zeroLine(-14.7, 0.9), crossSet(dmps3, dmps3Err, -14, LPURPLE)], cross: {hw: 0.5, lw: 1.2}});
mk({ax: 293, top: cTop, w: 79, h: cH, yW: 31, xH: cXH,
  x: {min: 0.2, max: 15.8, ticks: exonTicks15, labels: exonTicks15Labels, title: 'Coding exon'},
  y: {min: -0.0405, max: 0.0052, ticks: [-0.04,-0.03,-0.02,-0.01,0], labels: ['-0.04','-0.03','-0.02','-0.01','0.00'], title: "dS with 5' UTR", fs: 6.5},
  sets: [zeroLine(0.2, 15.8), crossSet(ds5, ds5Err, 1, '#111')], cross: {hw: 0.5, lw: 1.5}});
mk({ax: 417, top: cTop, w: 85, h: cH, yW: 32, xH: cXH,
  x: {min: -15.6, max: 0.8, ticks: lastTicks, labels: lastTickLabels, title: 'Coding exon'},
  y: {min: -0.0428, max: 0.0055, ticks: [-0.04,-0.03,-0.02,-0.01,0], labels: ['-0.04','-0.03','-0.02','-0.01','0.00'], title: "dS with 3' UTR", fs: 6.5},
  sets: [zeroLine(-15.6, 0.8), crossSet(ds3, ds3Err, -15, '#111')], cross: {hw: 0.5, lw: 1.5}});
mk({ax: 538, top: cTop, w: 79, h: cH, yW: 26, xH: cXH,
  x: {min: 0.2, max: 16, ticks: exonTicks15, labels: exonTicks15Labels, title: 'Coding exon'},
  y: {min: -0.098, max: 0.228, ticks: [0,0.1,0.2], labels: ['0.0','0.1','0.2'], title: "dD with 5' UTR", fs: 6.5},
  sets: [zeroLine(0.2, 16), crossSet(dd5, dd5Err, 1, '#111')], cross: {hw: 0.5, lw: 1.5}});
mk({ax: 660, top: cTop, w: 77, h: cH, yW: 25, xH: cXH,
  x: {min: -16.7, max: 0.9, ticks: lastTicks, labels: lastTickLabels, title: 'Coding exon'},
  y: {min: -0.137, max: 0.232, ticks: [-0.1,0,0.1,0.2], labels: ['-0.1','0.0','0.1','0.2'], title: "dD with 3' UTR", fs: 6.5},
  sets: [zeroLine(-16.7, 0.9), crossSet(dd3, dd3Err, -16, '#111')], cross: {hw: 0.5, lw: 1.5}});

// ================= panel d =================
const dTop = 629, dH = 68, dXH = 21;
mk({ax: 50, top: dTop, w: 78, h: dH, yW: 34, xH: dXH,
  x: {min: 0.2, max: 15.8, ticks: exonTicks15, labels: exonTicks15Labels, title: 'Coding exon'},
  y: {min: -0.215, max: 0.037, ticks: [-0.2,-0.15,-0.1,-0.05,0], labels: ['-0.20','-0.15','-0.10','-0.05','0.00'], title: 'MPS ~ 5\u2019UTR length', fs: 6.5},
  sets: [zeroLine(0.2, 15.8), crossSet(mps5len, mps5lenErr, 1, LPURPLE)], cross: {hw: 0.5, lw: 1.2}});
mk({ax: 178, top: dTop, w: 74, h: dH, yW: 38, xH: dXH,
  x: {min: -13.8, max: 0.8, ticks: lastTicks, labels: lastTickLabels, title: 'Coding exon'},
  y: {min: -0.0945, max: 0.0075, ticks: [-0.09,-0.06,-0.03,0], labels: ['-0.09','-0.06','-0.03','0.00'], title: 'MPS ~ 3\u2019UTR length', fs: 6.5},
  sets: [zeroLine(-13.8, 0.8), crossSet(mps3len, mps3lenErr, -13, LPURPLE)], cross: {hw: 0.5, lw: 1.2}});
mk({ax: 292, top: dTop, w: 79, h: dH, yW: 32, xH: dXH,
  x: {min: 0.2, max: 15.8, ticks: exonTicks15, labels: exonTicks15Labels, title: 'Coding exon'},
  y: {min: -0.124, max: 0.083, ticks: [-0.1,-0.05,0,0.05], labels: ['-0.10','-0.05','0.00','0.05'], title: 'S ~ 5\u2019UTR length', fs: 6.5},
  sets: [zeroLine(0.2, 15.8), crossSet(s5len, s5lenErr, 1, '#111')], cross: {hw: 0.5, lw: 1.5}});
mk({ax: 415, top: dTop, w: 85, h: dH, yW: 32, xH: dXH,
  x: {min: -15.6, max: 0.8, ticks: lastTicks, labels: lastTickLabels, title: 'Coding exon'},
  y: {min: -0.118, max: 0.058, ticks: [-0.1,-0.05,0,0.05], labels: ['-0.10','-0.05','0.00','0.05'], title: 'S ~ 3\u2019UTR length', fs: 6.5},
  sets: [zeroLine(-15.6, 0.8), crossSet(s3len, s3lenErr, -15, '#111')], cross: {hw: 0.5, lw: 1.5}});
mk({ax: 536, top: dTop, w: 81, h: dH, yW: 32, xH: dXH,
  x: {min: 0.2, max: 15.8, ticks: exonTicks15, labels: exonTicks15Labels, title: 'Coding exon'},
  y: {min: -0.13, max: 0.03, ticks: [-0.1,-0.05,0], labels: ['-0.10','-0.05','0.00'], title: 'D ~ 5\u2019UTR length', fs: 6.5},
  sets: [zeroLine(0.2, 15.8), crossSet(d5len, d5lenErr, 1, '#111')], cross: {hw: 0.5, lw: 1.5}});
mk({ax: 660, top: dTop, w: 77, h: dH, yW: 32, xH: dXH,
  x: {min: -15.6, max: 0.8, ticks: lastTicks, labels: lastTickLabels, title: 'Coding exon'},
  y: {min: -0.057, max: 0.115, ticks: [-0.05,0,0.05,0.1], labels: ['-0.05','0.00','0.05','0.10'], title: 'D ~ 3\u2019UTR length', fs: 6.5},
  sets: [zeroLine(-15.6, 0.8), crossSet(d3len, d3lenErr, -15, '#111')], cross: {hw: 0.5, lw: 1.5}});

// ================= panel e =================
const eTop = 732, eH = 78, eXH = 21;
const intronX = {min: -0.7, max: 14.7, ticks: intronTicks, labels: ['0','5','10'], title: '# introns'};
const decileX = {min: 0.55, max: 10.45, ticks: decileTicks, labels: decileTickLabels, title: 'Intron length decile', fs: 6.5};
mk({ax: 51, top: eTop, w: 77, h: eH, yW: 38, xH: eXH, x: intronX,
  y: {min: 1.15e-5, max: 4.15e-5, ticks: [2e-5,3e-5,4e-5], labels: ['2e-05','3e-05','4e-05'], title: 'Coding sequence MPS', fs: 6.5},
  sets: [dotSet(mpsByIntrons, 0, PURPLE)]});
mk({ax: 177, top: eTop, w: 74, h: eH, yW: 38, xH: eXH, x: decileX,
  y: {min: 1.15e-5, max: 4.15e-5, ticks: [2e-5,3e-5,4e-5], labels: ['2e-05','3e-05','4e-05'], title: 'Coding sequence MPS', fs: 6.5},
  sets: [dotSet(mpsByDecile, 1, PURPLE)]});
mk({ax: 292, top: eTop, w: 80, h: eH, yW: 34, xH: eXH, x: intronX,
  y: {min: 0.0435, max: 0.079, ticks: [0.05,0.06,0.07], labels: ['0.05','0.06','0.07'], title: 'Coding sequence S/bp', fs: 6.5},
  sets: [dotSet(sByIntrons, 0, '#111')]});
mk({ax: 412, top: eTop, w: 88, h: eH, yW: 34, xH: eXH, x: decileX,
  y: {min: 0.0465, max: 0.0795, ticks: [0.05,0.06,0.07], labels: ['0.05','0.06','0.07'], title: 'Coding sequence S/bp', fs: 6.5},
  sets: [dotSet(sByDecile, 1, '#111')]});
mk({ax: 534, top: eTop, w: 82, h: eH, yW: 34, xH: eXH, x: intronX,
  y: {min: -1.23, max: -0.865, ticks: [-1.2,-1.1,-1.0,-0.9], labels: ['-1.2','-1.1','-1.0','-0.9'], title: 'Coding sequence D', fs: 6.5},
  sets: [dotSet(dByIntrons, 0, '#111')]});
mk({ax: 658, top: eTop, w: 80, h: eH, yW: 34, xH: eXH, x: decileX,
  y: {min: -1.25, max: -0.925, ticks: [-1.2,-1.1,-1.0], labels: ['-1.2','-1.1','-1.0'], title: 'Coding sequence D', fs: 6.5},
  sets: [dotSet(dByDecile, 1, '#111')]});

// ================= panel f =================
mk({ax: 38, top: 860, w: 331, h: 123, yW: 36, xH: 25,
  x: {min: 0.49, max: 14.5, ticks: exonTicks, labels: exonTickLabels, title: 'Coding exon', fs: 6, tfs: 8},
  y: {min: 0.685, max: 1.03, ticks: [0.7,0.8,0.9,1.0], labels: ['0.7','0.8','0.9','1.0'], title: 'Relative S/b.p.', fs: 6, tfs: 8},
  sets: lineSets(populusSeries, allShown, {borderColor: '#3a3a3a', backgroundColor: '#a3a3a3', borderWidth: 0.8,
                 pointRadius: 2.8, pointBorderWidth: 0.8, pointBorderColor: '#6e6e6e'}),
  lab: {on: true, size: 5.5, color: '#333', dx: 0, dy: -5}});
mk({ax: 416, top: 865, w: 138, h: 113, yW: 38, xH: 29,
  x: {min: 0.1, max: 15.9, ticks: exonTicks15, labels: exonTicks15Labels, title: 'Coding exon', fs: 6, tfs: 8},
  y: {min: -0.00643, max: 0.00366, ticks: [-0.005,-0.0025,0,0.0025], labels: ['-0.0050','-0.0025','0.0000','0.0025'], title: "\u0394 S with 5' UTR", fs: 6, tfs: 8},
  sets: [zeroLine(0.1, 15.9), crossSet(popS5, popS5Err, 1, '#34423f')], cross: {hw: 0.3, lw: 1.3}});
mk({ax: 599, top: 865, w: 139, h: 118, yW: 34, xH: 24,
  x: {min: -16.2, max: 1.5, ticks: lastTicks, labels: lastTickLabels, title: 'Coding exon', fs: 6, tfs: 8},
  y: {min: -0.0102, max: 0.0076, ticks: [-0.01,-0.005,0,0.005], labels: ['-0.010','-0.005','0.000','0.005'], title: "\u0394 S with 3' UTR", fs: 6, tfs: 8},
  sets: [zeroLine(-16.2, 1.5), crossSet(popS3, popS3Err, -15, '#34423f')], cross: {hw: 0.3, lw: 1.3}});
</script>
</body>
</html>
